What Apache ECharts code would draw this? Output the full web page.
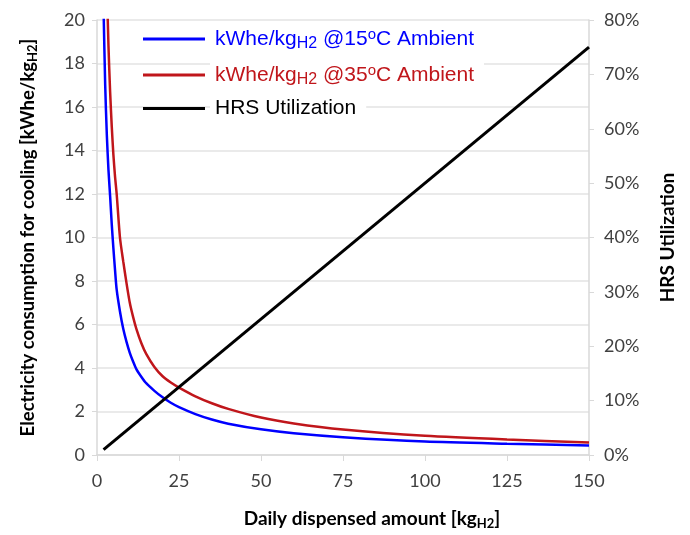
<!DOCTYPE html>
<html>
<head>
<meta charset="utf-8">
<script src="https://cdn.jsdelivr.net/npm/echarts@6/dist/echarts.min.js"></script>
<style>
  html, body { margin: 0; padding: 0; background: #fff; }
  #main { width: 690px; height: 535px; }
</style>
</head>
<body>
<div id="main"></div>
<script>
// daily dispensed amount [kg H2] and cooling consumption
var xBlue = [2, 2.5, 3, 3.5, 4, 4.5, 5, 5.5, 6, 7, 8, 9, 10, 11, 12, 13.5, 15, 17.5, 20, 22.5, 25, 30, 35, 40, 50, 60, 75, 100, 125, 150];
var blue15 = [20.5, 17.0, 14.7, 13.1, 11.9, 10.6, 9.5, 8.5, 7.6, 6.6, 5.8, 5.2, 4.7, 4.3, 3.95, 3.6, 3.3, 2.95, 2.65, 2.4, 2.2, 1.88, 1.63, 1.44, 1.18, 1.0, 0.82, 0.62, 0.52, 0.44];

var xRed = [3, 3.5, 4, 4.5, 5, 5.5, 6, 7, 8, 9, 10, 11, 12, 13.5, 15, 17.5, 20, 22.5, 25, 30, 35, 40, 50, 60, 75, 100, 125, 150];
var red35 = [21.6, 18.8, 16.7, 15.1, 13.8, 12.8, 12.0, 10.0, 8.9, 7.9, 7.0, 6.35, 5.8, 5.15, 4.65, 4.05, 3.62, 3.33, 3.1, 2.7, 2.38, 2.12, 1.72, 1.45, 1.17, 0.88, 0.71, 0.58];

// HRS utilization (right axis)
var xUtil = [2, 150];
var util = [0.01, 0.75];

var xTicks = [0, 25, 50, 75, 100, 125, 150];

var names = ['kWhe/kgH2 @15oC Ambient', 'kWhe/kgH2 @35oC Ambient', 'HRS Utilization'];

function pairs(xs, ys) {
    var out = [];
    for (var i = 0; i < xs.length; i++) out.push([xs[i], ys[i]]);
    return out;
}

var myChart = echarts.init(document.getElementById('main'));

var legendFont = 'Liberation Sans';
var legendRich = {
    b: { color: '#0000ff', fontSize: 21, fontFamily: legendFont },
    bs: { color: '#0000ff', fontSize: 16, fontFamily: legendFont, padding: [10, 0, 0, 0] },
    bo: { color: '#0000ff', fontSize: 15, fontFamily: legendFont, padding: [0, 0, 8, 0] },
    r: { color: '#c0161b', fontSize: 21, fontFamily: legendFont },
    rs: { color: '#c0161b', fontSize: 16, fontFamily: legendFont, padding: [10, 0, 0, 0] },
    ro: { color: '#c0161b', fontSize: 15, fontFamily: legendFont, padding: [0, 0, 8, 0] },
    k: { color: '#000000', fontSize: 21, fontFamily: legendFont }
};

function legendText(name) {
    if (name === names[0]) return '{b|kWhe/kg}{bs|H2}{b| @15}{bo|o}{b|C Ambient}';
    if (name === names[1]) return '{r|kWhe/kg}{rs|H2}{r| @35}{ro|o}{r|C Ambient}';
    return '{k|HRS Utilization}';
}

function makeLegend(name, top) {
    return {
        data: [name],
        left: 138,
        top: top,
        icon: 'rect',
        itemWidth: 62,
        itemHeight: 3,
        itemGap: 0,
        selectedMode: false,
        formatter: legendText,
        textStyle: {
            backgroundColor: '#ffffff',
            padding: [0, 10, 0, 5],
            rich: legendRich
        }
    };
}

var axisGray = '#d9d9d9';
var labelColor = '#404040';
var nameFont = 19;

var option = {
    animation: false,
    backgroundColor: '#ffffff',
    legend: [
        makeLegend(names[0], 21),
        makeLegend(names[1], 57),
        makeLegend(names[2], 93)
    ],
    grid: {
        left: 97,
        right: 101,
        top: 20,
        bottom: 77
    },
    xAxis: {
        type: 'value',
        min: 0,
        max: 150,
        interval: 25,
        name: 'Daily dispensed amount [kg{s|H2}]',
        nameLocation: 'middle',
        nameGap: 53,
        nameTextStyle: {
            color: '#000',
            fontFamily: 'Lato',
            fontWeight: 'bold',
            fontSize: nameFont,
            padding: [0, 0, 0, 58],
            rich: {
                s: { fontFamily: 'Lato', fontWeight: 'bold', fontSize: 13, padding: [9, 0, 0, 0] }
            }
        },
        axisLine: { show: true, lineStyle: { color: axisGray, width: 1.5 } },
        axisTick: { show: true, length: 6, lineStyle: { color: axisGray } },
        axisLabel: {
            color: labelColor,
            fontFamily: 'Lato',
            fontSize: 18,
            margin: 17,
            customValues: xTicks
        },
        splitLine: { show: false }
    },
    yAxis: [
        {
            type: 'value',
            min: 0,
            max: 20,
            interval: 2,
            name: 'Electricity consumption for cooling [kWhe/kg{s|H2}]',
            nameLocation: 'middle',
            nameRotate: 90,
            nameGap: 58,
            nameTextStyle: {
                color: '#000',
                fontFamily: 'Lato',
                fontWeight: 'bold',
                fontSize: 18.5,
                rich: {
                    s: { fontFamily: 'Lato', fontWeight: 'bold', fontSize: 13, padding: [9, 0, 0, 0] }
                }
            },
            axisLine: { show: true, lineStyle: { color: axisGray, width: 1.5 } },
            axisTick: { show: true, length: 5, lineStyle: { color: axisGray } },
            axisLabel: { color: labelColor, fontFamily: 'Lato', fontSize: 18, margin: 12 },
            splitLine: { show: true, lineStyle: { color: '#e3e3e3', width: 1.5 } }
        },
        {
            type: 'value',
            min: 0,
            max: 0.8,
            interval: 0.1,
            position: 'right',
            name: 'HRS Utilization',
            nameLocation: 'middle',
            nameRotate: 90,
            nameGap: 69,
            nameTextStyle: {
                color: '#000',
                fontFamily: 'Lato',
                fontWeight: 'bold',
                fontSize: nameFont
            },
            axisLine: { show: true, lineStyle: { color: axisGray, width: 1.5 } },
            axisTick: { show: true, length: 5, lineStyle: { color: axisGray } },
            axisLabel: {
                color: labelColor,
                fontFamily: 'Lato',
                fontSize: 18,
                margin: 15,
                formatter: function (v) { return Math.round(v * 100) + '%'; }
            },
            splitLine: { show: false }
        }
    ],
    series: [
        {
            name: names[0],
            type: 'line',
            yAxisIndex: 0,
            showSymbol: false,
            symbol: 'none',
            smooth: 0.25,
            lineStyle: { color: '#0000ff', width: 2.5 },
            itemStyle: { color: '#0000ff' },
            data: pairs(xBlue, blue15)
        },
        {
            name: names[1],
            type: 'line',
            yAxisIndex: 0,
            showSymbol: false,
            symbol: 'none',
            smooth: 0.25,
            lineStyle: { color: '#c0161b', width: 2.5 },
            itemStyle: { color: '#c0161b' },
            data: pairs(xRed, red35)
        },
        {
            name: names[2],
            type: 'line',
            yAxisIndex: 1,
            showSymbol: false,
            symbol: 'none',
            lineStyle: { color: '#000000', width: 3 },
            itemStyle: { color: '#000000' },
            data: pairs(xUtil, util)
        }
    ]
};

myChart.setOption(option);
</script>
</body>
</html>
